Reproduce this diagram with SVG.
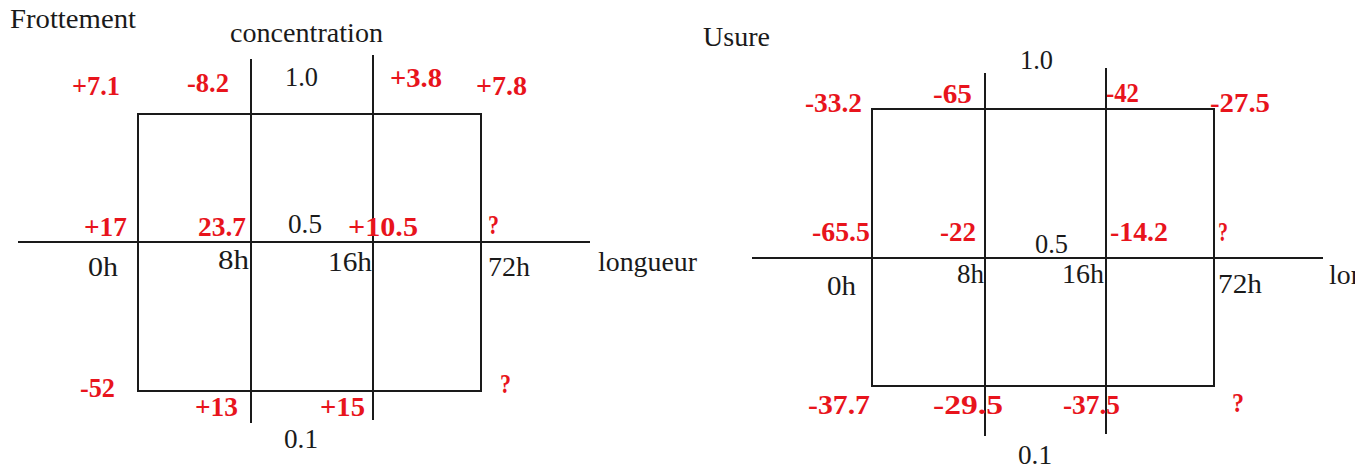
<svg xmlns="http://www.w3.org/2000/svg" width="1355" height="470" viewBox="0 0 1355 470">
<style>
.ln{stroke:#1a1a1a;stroke-width:2;fill:none}
text{font-family:'Liberation Serif','Times New Roman',Times,serif}
.k{font-size:27px;fill:#1a1a1a}
.r{font-size:28px;font-weight:bold;fill:#e8141c}
</style>
<rect width="1355" height="470" fill="#fff"/>
<g id="frottement">
<g id="frottement-lines">
<rect class="ln" x="138" y="114" width="343" height="277"/>
<line class="ln" x1="251" y1="59" x2="251" y2="423"/>
<line class="ln" x1="373" y1="55" x2="373" y2="420"/>
<line class="ln" x1="18" y1="242" x2="590" y2="242"/>
</g>
<g id="frottement-labels">
<text class="k" x="10" y="28" textLength="126" lengthAdjust="spacingAndGlyphs">Frottement</text>
<text class="k" x="230" y="42" textLength="153" lengthAdjust="spacingAndGlyphs">concentration</text>
<text class="k" x="285" y="86" textLength="33" lengthAdjust="spacingAndGlyphs">1.0</text>
<text class="k" x="288" y="233" textLength="34" lengthAdjust="spacingAndGlyphs">0.5</text>
<text class="k" x="88" y="276" textLength="30" lengthAdjust="spacingAndGlyphs">0h</text>
<text class="k" x="218" y="269" textLength="31" lengthAdjust="spacingAndGlyphs">8h</text>
<text class="k" x="328" y="271" textLength="44" lengthAdjust="spacingAndGlyphs">16h</text>
<text class="k" x="488" y="276" textLength="42" lengthAdjust="spacingAndGlyphs">72h</text>
<text class="k" x="598" y="271" textLength="99" lengthAdjust="spacingAndGlyphs">longueur</text>
<text class="k" x="284" y="448" textLength="34" lengthAdjust="spacingAndGlyphs">0.1</text>
<text class="r" x="72" y="95" textLength="48" lengthAdjust="spacingAndGlyphs">+7.1</text>
<text class="r" x="187" y="92" textLength="42" lengthAdjust="spacingAndGlyphs">-8.2</text>
<text class="r" x="390" y="87" textLength="52" lengthAdjust="spacingAndGlyphs">+3.8</text>
<text class="r" x="476" y="95" textLength="51" lengthAdjust="spacingAndGlyphs">+7.8</text>
<text class="r" x="84" y="236" textLength="43" lengthAdjust="spacingAndGlyphs">+17</text>
<text class="r" x="198" y="236" textLength="48" lengthAdjust="spacingAndGlyphs">23.7</text>
<text class="r" x="348" y="236" textLength="70" lengthAdjust="spacingAndGlyphs">+10.5</text>
<text class="r" x="488" y="234" textLength="11" lengthAdjust="spacingAndGlyphs">?</text>
<text class="r" x="80" y="397" textLength="35" lengthAdjust="spacingAndGlyphs">-52</text>
<text class="r" x="195" y="416" textLength="43" lengthAdjust="spacingAndGlyphs">+13</text>
<text class="r" x="320" y="416" textLength="45" lengthAdjust="spacingAndGlyphs">+15</text>
<text class="r" x="500" y="393" textLength="11" lengthAdjust="spacingAndGlyphs">?</text>
</g>
</g>
<g id="usure">
<g id="usure-lines">
<rect class="ln" x="872" y="109" width="342" height="277"/>
<line class="ln" x1="985" y1="73" x2="985" y2="436"/>
<line class="ln" x1="1106" y1="68" x2="1106" y2="434"/>
<line class="ln" x1="752" y1="258" x2="1323" y2="258"/>
</g>
<g id="usure-labels">
<text class="k" x="703" y="46" textLength="67" lengthAdjust="spacingAndGlyphs">Usure</text>
<text class="k" x="1020" y="69" textLength="33" lengthAdjust="spacingAndGlyphs">1.0</text>
<text class="k" x="1035" y="253" textLength="33" lengthAdjust="spacingAndGlyphs">0.5</text>
<text class="k" x="827" y="295" textLength="29" lengthAdjust="spacingAndGlyphs">0h</text>
<text class="k" x="957" y="283" textLength="27" lengthAdjust="spacingAndGlyphs">8h</text>
<text class="k" x="1062" y="283" textLength="42" lengthAdjust="spacingAndGlyphs">16h</text>
<text class="k" x="1218" y="293" textLength="44" lengthAdjust="spacingAndGlyphs">72h</text>
<text class="k" x="1329" y="284" textLength="99" lengthAdjust="spacingAndGlyphs">longueur</text>
<text class="k" x="1018" y="464" textLength="34" lengthAdjust="spacingAndGlyphs">0.1</text>
<text class="r" x="805" y="112" textLength="57" lengthAdjust="spacingAndGlyphs">-33.2</text>
<text class="r" x="933" y="103" textLength="39" lengthAdjust="spacingAndGlyphs">-65</text>
<text class="r" x="1106" y="102" textLength="33" lengthAdjust="spacingAndGlyphs">-42</text>
<text class="r" x="1210" y="112" textLength="60" lengthAdjust="spacingAndGlyphs">-27.5</text>
<text class="r" x="812" y="241" textLength="58" lengthAdjust="spacingAndGlyphs">-65.5</text>
<text class="r" x="940" y="241" textLength="36" lengthAdjust="spacingAndGlyphs">-22</text>
<text class="r" x="1110" y="241" textLength="58" lengthAdjust="spacingAndGlyphs">-14.2</text>
<text class="r" x="1218" y="241" textLength="10" lengthAdjust="spacingAndGlyphs">?</text>
<text class="r" x="808" y="414" textLength="62" lengthAdjust="spacingAndGlyphs">-37.7</text>
<text class="r" x="933" y="414" textLength="70" lengthAdjust="spacingAndGlyphs">-29.5</text>
<text class="r" x="1063" y="414" textLength="57" lengthAdjust="spacingAndGlyphs">-37.5</text>
<text class="r" x="1232" y="412" textLength="12" lengthAdjust="spacingAndGlyphs">?</text>
</g>
</g>
</svg>
